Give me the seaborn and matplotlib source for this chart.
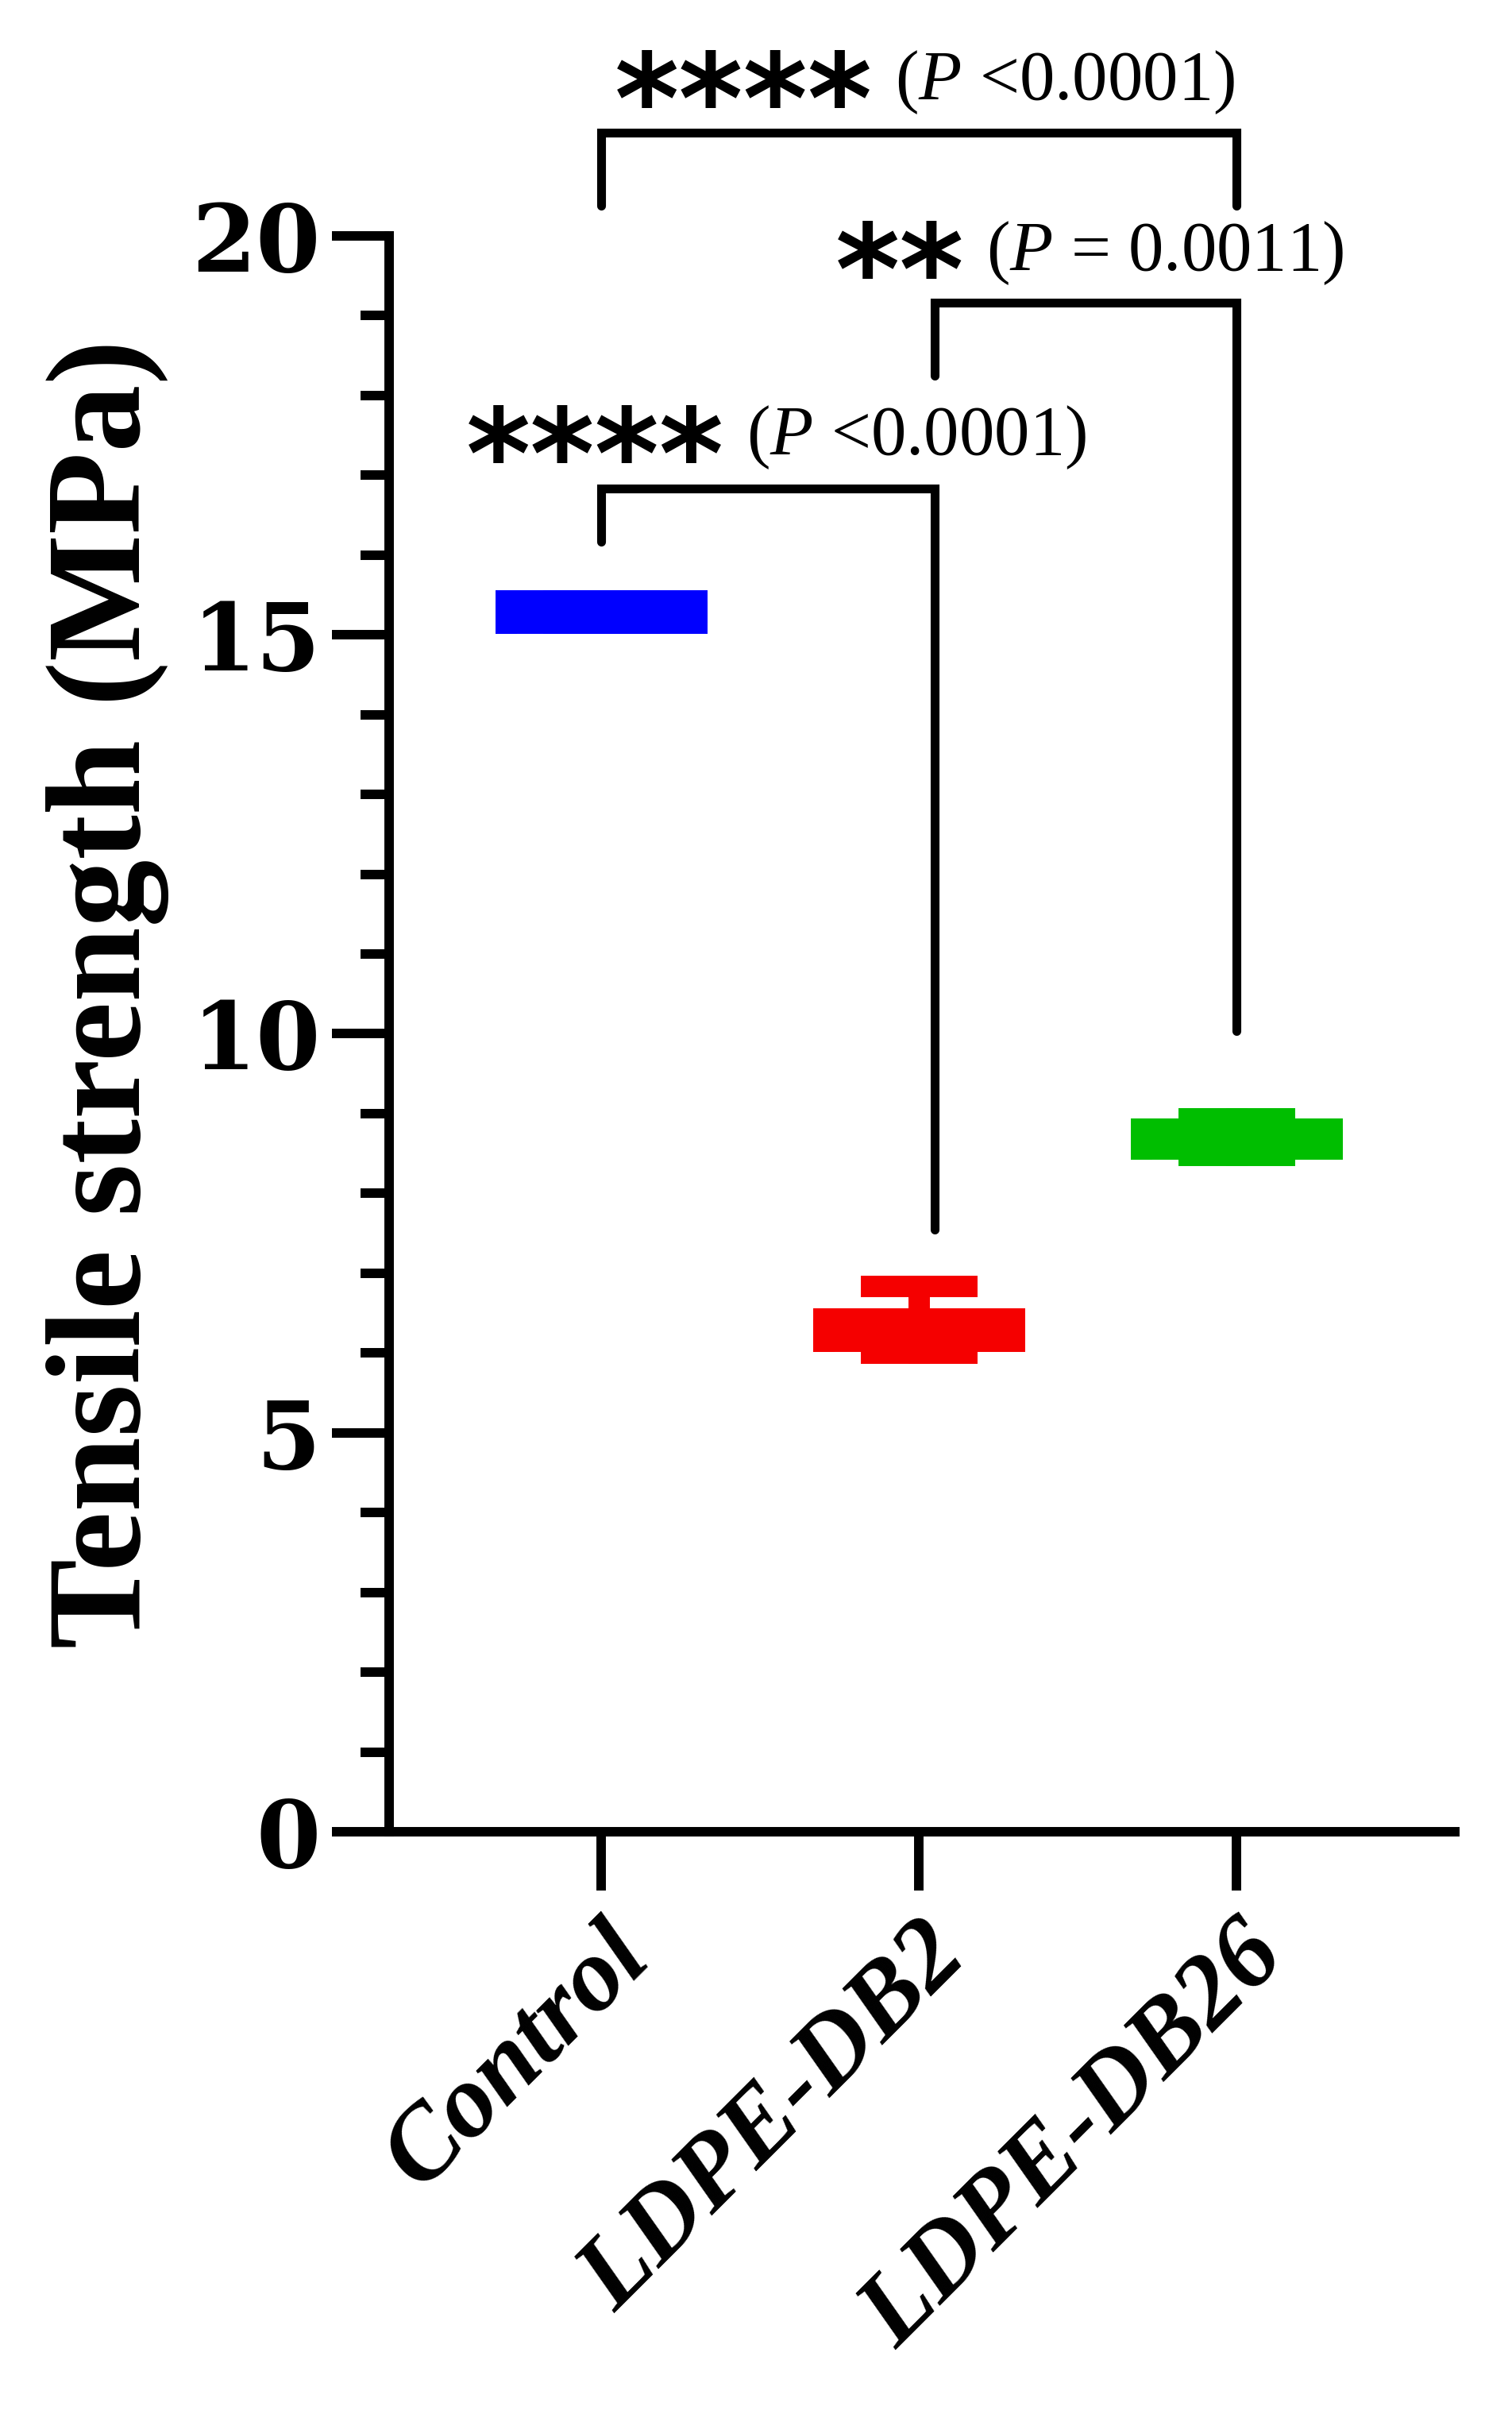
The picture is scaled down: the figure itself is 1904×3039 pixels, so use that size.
"""
Tensile strength box plot (Control vs LDPE-DB2 vs LDPE-DB26)
"""


# %% ---- Requirements and constants
import numpy as np
import pandas as pd
import seaborn as sns
import matplotlib.pyplot as plt
from matplotlib.ticker import MultipleLocator

groups = ['Control', 'LDPE-DB2', 'LDPE-DB26']
# five-number summaries: min, q1, median, q3, max
control = [15.15, 15.15, 15.29, 15.43, 15.43]
ldpe_db2 = [6.00, 6.15, 6.29, 6.43, 6.84]
ldpe_db26 = [8.48, 8.56, 8.68, 8.81, 8.94]
colors = ['#0000FF', '#F50000', '#00BE00']

y_ticks = [0, 5, 10, 15, 20]

# significance brackets
bracket_x = [(0, 2), (1.05, 2), (0, 1.05)]
bracket_y = [21.29, 19.16, 16.83]
leg_ends = [(20.38, 20.38), (18.25, 10.03), (16.17, 7.55)]
stars = ['****', '**', '****']
p_texts = ['($P$ <0.0001)', '($P$ = 0.0011)', '($P$ <0.0001)']
text_x = [0.925, 1.2125, 0.4575]
text_y = [21.71, 19.57, 17.26]


# %% ---- Play ground
sns.set_theme(style='ticks')
plt.rcParams['font.family'] = ['Liberation Serif', 'DejaVu Serif']
plt.rcParams['mathtext.fontset'] = 'custom'
plt.rcParams['mathtext.rm'] = 'Liberation Serif'
plt.rcParams['mathtext.it'] = 'Liberation Serif:italic'
for key in ['text.color', 'axes.labelcolor', 'xtick.color', 'ytick.color',
            'axes.edgecolor']:
    plt.rcParams[key] = 'black'

df = pd.DataFrame({
    'group': np.repeat(groups, 5),
    'value': control + ldpe_db2 + ldpe_db26,
})

fig = plt.figure(figsize=(9.52, 15.195), dpi=200)
ax = fig.add_axes([0.2574, 0.2412, 0.7048, 0.6611])

sns.boxplot(data=df, x='group', y='value', hue='group', palette=colors,
            fill=False, whis=(0, 100), width=0.6, linewidth=9.7,
            dodge=False, legend=False, ax=ax)
# square corners like the original (Prism style)
for line in ax.lines:
    line.set_solid_joinstyle('miter')
    line.set_solid_capstyle('projecting')

ax.set_xlim(-0.6675, 2.6875)
ax.set_ylim(0, 20)
sns.despine(ax=ax)
for side in ['left', 'bottom']:
    ax.spines[side].set_linewidth(4.3)
    ax.spines[side].set_color('black')

ax.set_yticks(y_ticks, labels=[str(t) for t in y_ticks],
              family='DejaVu Serif', weight='bold', size=42)
ax.yaxis.set_minor_locator(MultipleLocator(1))
ax.tick_params(axis='y', which='major', length=26, width=4.3,
               direction='out', pad=5, color='black')
ax.tick_params(axis='y', which='minor', length=13, width=4.3,
               direction='out', color='black')

ax.set_xticks(range(len(groups)), labels=groups, rotation=45, ha='right',
              rotation_mode='anchor', family='Liberation Serif',
              weight='bold', style='italic', size=47)
ax.tick_params(axis='x', which='major', length=26.6, width=4.3,
               direction='out', pad=8, color='black')

ax.set_xlabel('')
ax.set_ylabel('Tensile strength (MPa)', family='Liberation Serif',
              weight='bold', size=61)
ax.yaxis.set_label_coords(-0.2064, 0.525)

for (x1, x2), y, (l1, l2), s, p, tx, ty in zip(
        bracket_x, bracket_y, leg_ends, stars, p_texts, text_x, text_y):
    ax.plot([x1, x1, x2, x2], [l1, y, y, l2], color='black', lw=4,
            solid_joinstyle='miter', clip_on=False)
    ax.text(tx - 0.07, ty - 0.55, s, ha='right', va='baseline',
            family='DejaVu Sans', weight='bold', size=56, clip_on=False)
    ax.text(tx, ty, p, ha='left', va='baseline', size=32, clip_on=False)

fig.savefig('out.png', dpi=200)
